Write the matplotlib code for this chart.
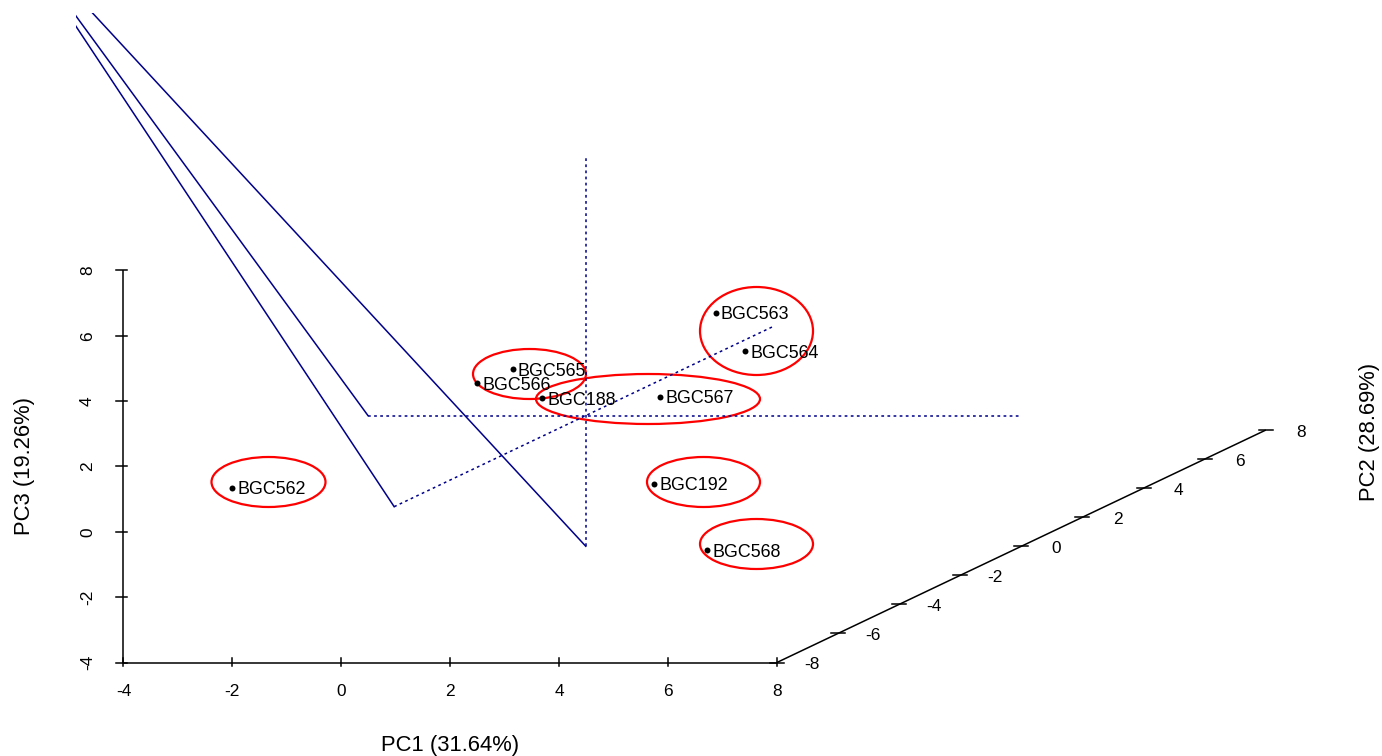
import matplotlib
matplotlib.use("Agg")
import matplotlib.pyplot as plt
from matplotlib.patches import Ellipse, Rectangle
import numpy as np

plt.rcParams['font.family'] = ['Liberation Sans', 'DejaVu Sans']

# ---------------- data ----------------
samples = ["BGC562", "BGC565", "BGC566", "BGC188", "BGC567",
           "BGC563", "BGC564", "BGC192", "BGC568"]
pc1 = [-3.69, -3.31, -3.68, -2.48, -2.06, 5.91, 6.30, -0.24, 2.79]
pc2 = [-5.00, 3.50, 3.00, 3.00, 6.10, -6.27, -6.00, 2.67, -1.00]
pc3 = [0.01, -0.14, -0.35, -0.80, -2.13, 5.94, 4.64, -3.28, -3.67]

x_ticks = [-4, -2, 0, 2, 4, 6, 8]
y_ticks = [-8, -6, -4, -2, 0, 2, 4, 6, 8]
z_ticks = [-4, -2, 0, 2, 4, 6, 8]

xlab = "PC1 (31.64%)"
ylab = "PC2 (28.69%)"
zlab = "PC3 (19.26%)"

# far point towards which the solid guide lines run
guide_far = (-10.7, 0.0, 15.28)

# highlight ellipses (centre x, centre y, width, height) in plot pixel space
highlight_ellipses = [
    (268.5, 482, 114, 50),
    (529.5, 374, 113, 50),
    (648.0, 399, 224, 50),
    (756.5, 331, 113, 88),
    (703.5, 482, 113, 50),
    (756.5, 544, 113, 50),
]

# ---------------- projection (oblique, scatterplot3d style) ----------------
XMIN, XMAX = x_ticks[0], x_ticks[-1]
YMIN, YMAX = y_ticks[0], y_ticks[-1]
ZMIN, ZMAX = z_ticks[0], z_ticks[-1]
PX0, PY0 = 123.5, 662.5
UX, UZ = 54.45, 32.67
UYX, UYY = 30.56, 14.53


def proj(x, y, z):
    x = np.asarray(x, float); y = np.asarray(y, float); z = np.asarray(z, float)
    px = PX0 + (x - XMIN) * UX + (y - YMIN) * UYX
    py = PY0 - (z - ZMIN) * UZ - (y - YMIN) * UYY
    return px, py


W, H = 1382, 756
fig = plt.figure(figsize=(W / 100, H / 100), dpi=100)
ax = fig.add_axes([0, 0, 1, 1])
ax.set_xlim(0, W)
ax.set_ylim(H, 0)
ax.axis('off')

axis_lw = 1.1
navy = '#00008B'
dotted = (0, (1.8, 2.2))
clip = Rectangle((76, 13), W, H, transform=ax.transData)

# ---------- axes ----------
px, py = proj([XMIN, XMAX], [YMIN, YMIN], [ZMIN, ZMIN])
ax.plot(px, py, color='black', lw=axis_lw, solid_capstyle='butt')
px, py = proj([XMIN, XMIN], [YMIN, YMIN], [ZMIN, ZMAX])
ax.plot(px, py, color='black', lw=axis_lw, solid_capstyle='butt')
px, py = proj([XMAX, XMAX], [YMIN, YMAX], [ZMIN, ZMIN])
ax.plot(px, py, color='black', lw=axis_lw, solid_capstyle='butt')

tick_fs = 12.4
pt_fs = 12.9
lab_fs = 15.8

for t in x_ticks:
    tx, ty = proj(t, YMIN, ZMIN)
    ax.plot([tx, tx], [ty - 5, ty + 3], color='black', lw=axis_lw)
    ax.text(tx, ty + 29, str(t), ha='center', va='center', fontsize=tick_fs)

for t in z_ticks:
    tx, ty = proj(XMIN, YMIN, t)
    ax.plot([tx - 7, tx + 4], [ty, ty], color='black', lw=axis_lw)
    ax.text(tx - 36, ty, str(t), ha='center', va='center', fontsize=tick_fs,
            rotation=90)

for t in y_ticks:
    tx, ty = proj(XMAX, t, ZMIN)
    ax.plot([tx - 7, tx + 7], [ty, ty], color='black', lw=axis_lw)
    ax.text(tx + 35, ty + 2, str(t), ha='center', va='center', fontsize=tick_fs)

ax.text(450, 745, xlab, ha='center', va='center', fontsize=lab_fs)
ax.text(25, 466, zlab, ha='center', va='center', fontsize=lab_fs, rotation=90)
ax.text(1370, 432, ylab, ha='center', va='center', fontsize=lab_fs, rotation=90)

# ---------- guide lines through the origin ----------
ymin_d, ymax_d = min(pc2), max(pc2)
px, py = proj([XMIN, XMAX], [0, 0], [0, 0])
ax.plot(px, py, color=navy, lw=1.1, linestyle=dotted)
px, py = proj([0, 0], [0, 0], [ZMIN, ZMAX - 0.1])
ax.plot(px, py, color=navy, lw=1.1, linestyle=dotted)
px, py = proj([0, 0], [ymin_d, ymax_d], [0, 0])
ax.plot(px, py, color=navy, lw=1.1, linestyle=dotted)

starts = [(XMIN, 0, 0), (0, ymin_d, 0), (0, 0, ZMIN)]
for s in starts:
    px, py = proj([s[0], guide_far[0]], [s[1], guide_far[1]], [s[2], guide_far[2]])
    ln, = ax.plot(px, py, color=navy, lw=1.1)
    ln.set_clip_path(clip)

# ---------- points ----------
px, py = proj(pc1, pc2, pc3)
ax.plot(px, py, 'o', color='black', ms=4.3, mec='black', mew=0)
for name, x_, y_ in zip(samples, px, py):
    ax.text(x_ + 5, y_ + 2, name, ha='left', va='center', fontsize=pt_fs)

for cx, cy, w, h in highlight_ellipses:
    ax.add_patch(Ellipse((cx, cy), w, h, fill=False, edgecolor='#FF0000', lw=1.6))

fig.savefig('out.png', dpi=100)
